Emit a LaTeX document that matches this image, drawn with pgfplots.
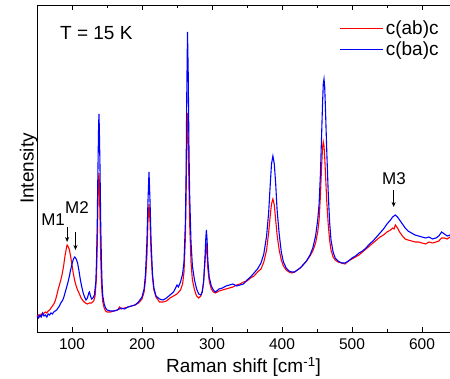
\documentclass[border=0pt]{standalone}
\usepackage{pgfplots}
\pgfplotsset{compat=1.18}
\usepackage{fontspec}
\setmainfont{Liberation Sans}
\usetikzlibrary{arrows.meta}
\begin{document}
\begin{tikzpicture}
\begin{axis}[
  scale only axis,
  width=413pt, height=327pt,
  xmin=50, xmax=640, ymin=0, ymax=327,
  axis x line=box, axis y line*=left,
  separate axis lines,
  xtick={100,200,300,400,500,600},
  minor xtick={150,250,350,450,550,650},
  ytick=\empty,
  tick align=inside,
  major tick length=5pt, minor tick length=3pt,
  tick style={black, line width=0.7pt},
  axis line style={line width=0.8pt},
  /pgf/number format/assume math mode=true,
  ticklabel style={font=\fontsize{15.5}{18}\selectfont},
  xticklabel style={yshift=-3pt},
  xlabel={Raman shift [cm\textsuperscript{-1}]},
  ylabel={Intensity},
  label style={font=\fontsize{19}{22}\selectfont},
  xlabel style={yshift=-1pt},
  ylabel style={yshift=-4pt},
  legend style={draw=none, fill=none, at={(rel axis cs:0.985,0.965)}, anchor=north east,
    font=\fontsize{19}{23}\selectfont, row sep=1.5pt},
  legend cell align=left,
  legend image code/.code={\draw[#1, line width=0.9pt] (0pt,0pt) -- (43pt,0pt);},
  clip=true,
]
\addplot[red, line width=1.1pt] coordinates {
(50,16)(52,17)(54,15)(56,18)(58,17)(60,19)(62,20)(64,19)(66,21)(68,22)(70,24)(72,26)(74,28)(76,31)(78,36)(80,42)(82,47)(84,52)(86,58)(88,66)(90,76)(92,84)(93,87)(94,86)(96,83)(98,76)(100,67)(102,58)(104,51)(106,46)(108,42)(110,39)(113,34)(116,31)(119,29)(122,28)(125,29)(128,29)(131,31)(133,36)(135,55)(136,85)(137,125)(138,152)(138.5,159)(139,150)(140,115)(141,75)(142,50)(143,38)(144,30)(146,24)(148,21)(150,20)(155,20)(160,21)(165,22)(168,25)(170,23)(175,24)(180,25)(185,26)(190,27)(195,29)(200,33)(203,40)(205,52)(207,75)(208.5,110)(210,128)(211.5,110)(213,78)(215,54)(217,42)(220,35)(225,30)(230,30)(235,31)(240,34)(245,36)(250,38)(255,42)(258,48)(260,60)(262,95)(263,135)(264,190)(265,219)(266,195)(267,150)(268,110)(270,70)(272,52)(275,42)(278,36)(281,34)(284,36)(286,40)(288,50)(290,70)(291,80)(292,85)(293,78)(294,64)(296,51)(299,43)(302,40)(305,39)(310,41)(315,42)(320,43)(325,44)(330,45)(335,47)(340,48)(345,50)(350,51)(355,54)(360,56)(365,60)(370,63)(374,70)(378,82)(381,100)(383,115)(385,128)(387,133)(389,127)(391,112)(393,97)(396,82)(399,72)(402,66)(406,62)(410,60)(414,59)(418,60)(422,62)(426,64)(430,67)(435,71)(440,76)(444,81)(448,89)(451,100)(453,112)(455,138)(456.5,165)(458,185)(459,190)(460,186)(461,175)(462,160)(464,130)(466,108)(468,92)(470,82)(473,75)(476,72)(480,70)(485,69)(490,68)(495,71)(500,73)(505,75)(510,77)(515,80)(520,83)(525,86)(530,89)(535,92)(540,95)(545,97)(550,100)(555,102)(558,104)(560,103)(562,107)(565,104)(568,100)(572,96)(576,93)(580,92)(585,91)(590,90)(595,90)(600,89)(605,88)(610,90)(615,89)(620,90)(624,91)(628,94)(632,94)(636,93)(640,95)
};
\addlegendentry{c(ab)c}
\addplot[blue, line width=1.1pt] coordinates {
(50,16)(52,14)(54,17)(56,15)(58,19)(60,16)(62,17)(64,15)(66,18)(68,17)(70,19)(72,18)(74,20)(76,21)(78,22)(80,24)(82,26)(84,29)(86,31)(88,34)(90,39)(92,44)(94,49)(96,55)(98,62)(100,68)(102,73)(104,75)(106,73)(108,69)(110,61)(112,52)(114,45)(116,39)(118,35)(120,32)(122,34)(124,39)(125,40)(126,37)(128,33)(130,34)(132,37)(134,50)(135,70)(136,105)(137,160)(138,205)(138.5,218)(139,205)(140,165)(141,110)(142,72)(143,48)(144,36)(146,28)(148,24)(150,22)(155,21)(160,21)(165,22)(170,24)(175,23)(180,25)(185,26)(190,27)(195,30)(200,35)(203,43)(205,58)(207,90)(208.5,130)(210,160)(211.5,130)(213,90)(215,58)(217,44)(220,36)(225,33)(230,32)(235,34)(240,37)(245,40)(248,44)(250,47)(252,45)(255,50)(258,58)(260,70)(262,110)(263,160)(264,240)(265,300)(266,260)(267,190)(268,140)(270,90)(272,66)(275,52)(278,43)(281,38)(284,37)(286,40)(288,50)(290,75)(291,92)(292,102)(293,92)(294,72)(296,55)(299,46)(302,42)(305,40)(310,43)(315,44)(320,46)(325,47)(330,48)(335,46)(340,47)(345,48)(350,52)(355,55)(360,59)(365,63)(370,69)(374,78)(378,96)(381,120)(383,145)(385,168)(387,176)(389,168)(391,148)(393,122)(396,98)(399,80)(402,70)(406,64)(410,61)(414,60)(418,60)(422,62)(426,64)(430,67)(435,71)(440,77)(444,84)(448,96)(451,112)(453,128)(455,160)(456.5,195)(458,230)(459,248)(460,253)(461,245)(462,225)(464,180)(466,140)(468,110)(470,92)(473,80)(476,74)(480,71)(485,69)(490,69)(495,71)(500,74)(505,76)(510,79)(515,81)(520,84)(525,88)(530,91)(535,95)(540,99)(545,103)(550,108)(555,112)(558,115)(562,117)(565,115)(568,112)(572,108)(576,104)(580,101)(585,99)(590,97)(595,96)(600,95)(605,94)(610,95)(615,93)(620,94)(624,96)(628,100)(632,98)(636,96)(640,97)
};
\addlegendentry{c(ba)c}
\node[anchor=west, font=\fontsize{19}{22}\selectfont] at (axis cs:78,299) {T = 15 K};
\node[font=\fontsize{17}{20}\selectfont] at (axis cs:73,112) {M1};
\node[font=\fontsize{17}{20}\selectfont] at (axis cs:107,124) {M2};
\node[font=\fontsize{17}{20}\selectfont] at (axis cs:560,153) {M3};
\draw[-{Stealth[length=5pt,width=4pt]}, line width=0.5pt] (axis cs:93,105) -- (axis cs:93,90);
\draw[-{Stealth[length=5pt,width=4pt]}, line width=0.5pt] (axis cs:105,100) -- (axis cs:105,82);
\draw[-{Stealth[length=5pt,width=4pt]}, line width=0.5pt] (axis cs:559.5,142) -- (axis cs:559.5,125);
\end{axis}
\pgfresetboundingbox
\path (current axis.south west) ++(-37pt,-47pt) coordinate (bl);
\path (current axis.north east) ++(0pt,5pt) coordinate (tr);
\useasboundingbox (bl) rectangle (tr);
\end{tikzpicture}
\end{document}
